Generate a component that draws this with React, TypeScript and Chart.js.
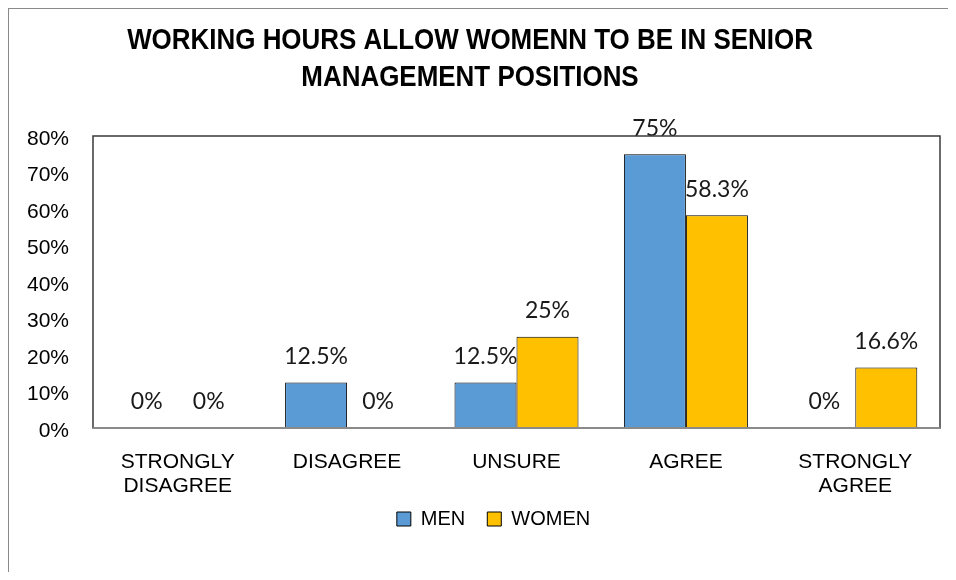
import React, { useEffect, useRef } from "react";
import { Chart, registerables } from "chart.js";

Chart.register(...registerables);

const titleLines = ["WORKING HOURS ALLOW WOMENN TO BE IN SENIOR", "MANAGEMENT POSITIONS"];
const categories: (string | string[])[] = [
  ["STRONGLY", "DISAGREE"],
  "DISAGREE",
  "UNSURE",
  "AGREE",
  ["STRONGLY", "AGREE"],
];
const menValues = [0, 12.5, 12.5, 75, 0];
const womenValues = [0, 0, 25, 58.3, 16.6];
const seriesNames = ["MEN", "WOMEN"];
const yMin = 0;
const yMax = 80;
const yStep = 10;

const AXIS_FONT = "'Liberation Sans', Arial, sans-serif";
const LABEL_FONT = "Lato, 'Open Sans', sans-serif";

// Title drawn as real text, horizontally condensed like the reference's narrow bold face
const condensedTitlePlugin = {
  id: "condensedTitle",
  afterDraw(chart: any, _args: any, opts: any) {
    const ctx = chart.ctx;
    const lines: string[] = opts.text || [];
    ctx.save();
    ctx.font = `bold ${opts.size}px ${AXIS_FONT}`;
    ctx.fillStyle = "#000000";
    ctx.textAlign = "center";
    ctx.textBaseline = "middle";
    lines.forEach((line, i) => {
      ctx.save();
      ctx.translate(opts.centerX, opts.firstY + i * opts.lineGap);
      ctx.scale(opts.squeeze, 1);
      ctx.fillText(line, 0, 0);
      ctx.restore();
    });
    ctx.restore();
  },
};

const dataLabelPlugin = {
  id: "dataLabels",
  afterDatasetsDraw(chart: any) {
    const ctx = chart.ctx;
    ctx.save();
    ctx.font = `23px ${LABEL_FONT}`;
    ctx.fillStyle = "#1a1a1a";
    ctx.textAlign = "center";
    ctx.textBaseline = "middle";
    chart.data.datasets.forEach((ds: any, di: number) => {
      const meta = chart.getDatasetMeta(di);
      meta.data.forEach((el: any, i: number) => {
        const v = ds.data[i];
        ctx.fillText(`${v}%`, el.x, el.y - 26);
      });
    });
    ctx.restore();
  },
};

const plotBorderPlugin = {
  id: "plotBorder",
  afterDraw(chart: any) {
    const { ctx, chartArea } = chart;
    ctx.save();
    ctx.strokeStyle = "#3a3a3a";
    ctx.lineWidth = 1.5;
    ctx.strokeRect(chartArea.left, chartArea.top, chartArea.right - chartArea.left, chartArea.bottom - chartArea.top);
    ctx.strokeStyle = "#8a8a8a";
    ctx.lineWidth = 2;
    ctx.beginPath();
    ctx.moveTo(chartArea.left, chartArea.bottom);
    ctx.lineTo(chartArea.right, chartArea.bottom);
    ctx.stroke();
    ctx.restore();
  },
};

const legendShiftPlugin = {
  id: "legendShift",
  afterLayout(chart: any) {
    const lg = chart.legend;
    if (lg) {
      lg.left += 19;
      lg.right += 19;
      lg.top -= 13;
      lg.bottom -= 13;
    }
  },
};

export default function App() {
  const canvasRef = useRef<HTMLCanvasElement | null>(null);

  useEffect(() => {
    document.body.style.overflow = "hidden";
    const canvas = canvasRef.current;
    if (!canvas) return;
    const chart = new Chart(canvas, {
      type: "bar",
      data: {
        labels: categories,
        datasets: [
          {
            label: seriesNames[0],
            data: menValues,
            backgroundColor: "#5B9BD5",
            borderColor: "#000000",
            borderWidth: 1,
            categoryPercentage: 0.732,
            barPercentage: 1,
          },
          {
            label: seriesNames[1],
            data: womenValues,
            backgroundColor: "#FFC000",
            borderColor: "#000000",
            borderWidth: 1,
            categoryPercentage: 0.732,
            barPercentage: 1,
          },
        ],
      },
      options: {
        responsive: false,
        animation: false,
        layout: { padding: { left: 0, right: 8, top: 127, bottom: 20 } },
        plugins: {
          title: { display: false },
          condensedTitle: {
            text: titleLines,
            size: 30,
            squeeze: 0.865,
            centerX: 461,
            firstY: 32,
            lineGap: 37,
          },
          legend: {
            position: "bottom",
            labels: {
              boxWidth: 14,
              boxHeight: 14,
              padding: 22,
              color: "#000000",
              font: { family: AXIS_FONT, size: 20 },
            },
          },
          tooltip: { enabled: false },
        },
        scales: {
          x: {
            grid: { display: false, drawTicks: false },
            border: { display: false },
            ticks: {
              color: "#000000",
              padding: 22,
              font: { family: AXIS_FONT, size: 21, lineHeight: 1.15 },
              maxRotation: 0,
              autoSkip: false,
            },
            afterFit(scale: any) {
              scale.height = 72;
            },
          },
          y: {
            min: yMin,
            max: yMax,
            grid: { display: false, drawTicks: false },
            border: { display: false },
            ticks: {
              stepSize: yStep,
              color: "#000000",
              padding: 24,
              labelOffset: 3,
              font: { family: AXIS_FONT, size: 21 },
              callback: (v: any) => `${v}%`,
            },
            afterFit(scale: any) {
              scale.width = 84;
            },
          },
        },
      } as any,
      plugins: [condensedTitlePlugin, dataLabelPlugin, plotBorderPlugin, legendShiftPlugin],
    });
    return () => chart.destroy();
  }, []);

  return (
    <div
      style={{
        width: 939,
        height: 563,
        borderLeft: "1px solid #8a8a8a",
        borderTop: "1px solid #8a8a8a",
      }}
    >
      <canvas ref={canvasRef} width={939} height={563} style={{ display: "block" }} />
    </div>
  );
}
